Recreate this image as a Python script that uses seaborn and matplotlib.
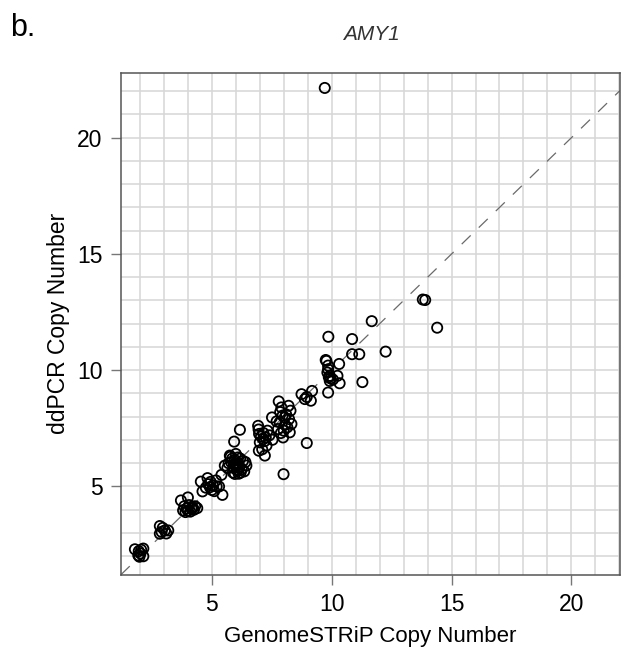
import matplotlib
matplotlib.use("Agg")
import matplotlib.pyplot as plt
from matplotlib.ticker import MultipleLocator
import seaborn as sns
import pandas as pd

# GenomeSTRiP vs ddPCR copy-number estimates for AMY1
genomestrip_cn = [
    # ~2 copies
    1.79, 1.95, 2.05, 2.14, 1.93, 2.14, 2.02, 1.98,
    # ~3 copies
    2.83, 2.83, 3.04, 3.18, 2.95, 3.10, 2.90,
    # ~4 copies
    3.71, 4.00, 3.80, 3.85, 3.95, 4.05, 4.15, 4.25, 4.39, 4.30, 4.10, 3.90, 4.20, 4.00,
    # ~5 copies
    4.54, 4.82, 5.17, 4.61, 5.44, 4.92, 5.05, 5.00, 4.85, 5.20, 5.10, 4.95, 5.30, 4.75, 5.40,
    # ~6 copies
    5.75, 5.54, 6.44, 5.96, 6.20, 6.30, 5.85, 6.00, 6.10, 5.90, 6.05, 6.15, 5.80, 6.25,
    5.95, 6.35, 6.00, 5.70, 6.10, 5.88, 6.02, 6.18, 5.92, 6.08, 5.65, 6.40, 5.78, 6.12,
    5.93, 6.17,
    # ~7 copies
    6.93, 6.97, 7.32, 7.53, 7.14, 7.28, 6.96, 7.21, 7.05, 7.15, 7.00, 7.25, 7.10, 6.95, 7.20, 7.40,
    # ~8 copies
    7.79, 7.90, 8.20, 8.28, 7.51, 8.04, 7.83, 8.32, 7.76, 8.25, 7.97, 8.10, 7.85, 8.15,
    7.70, 8.00, 7.95, 8.05, 7.88, 8.22, 7.99, 8.96,
    # ~9 copies
    8.74, 9.18, 8.88, 9.13, 8.96,
    # ~10 copies
    9.75, 9.78, 10.31, 9.85, 9.82, 9.92, 10.24, 9.92, 9.95, 9.88, 10.05, 9.85, 10.33, 9.85,
    # high copy number
    9.86, 10.85, 10.85, 11.15, 12.25, 11.28, 11.67, 13.80, 13.90, 14.40, 9.71,
]

ddpcr_cn = [
    2.30, 2.22, 2.28, 2.33, 2.04, 2.00, 2.12, 1.98,
    3.30, 2.97, 3.11, 3.11, 3.22, 2.98, 3.05,
    4.40, 4.53, 3.97, 4.15, 4.05, 4.20, 4.05, 4.00, 4.07, 4.15, 3.92, 3.90, 4.10, 3.95,
    5.21, 5.36, 5.26, 4.79, 4.64, 4.97, 5.05, 4.85, 5.10, 5.00, 4.80, 5.20, 5.00, 4.95, 5.50,
    6.33, 5.90, 5.90, 5.54, 5.60, 6.10, 6.20, 6.40, 6.00, 5.80, 5.70, 5.85, 6.05, 5.75,
    6.15, 5.65, 5.95, 6.00, 6.25, 5.60, 5.85, 6.20, 5.95, 5.72, 5.80, 6.05, 6.28, 5.55,
    6.93, 7.44,
    7.61, 7.26, 7.40, 7.01, 7.04, 6.76, 6.54, 6.33, 7.15, 7.30, 6.90, 7.10, 6.60, 7.45, 6.95, 7.20,
    8.66, 8.40, 8.47, 8.26, 7.97, 7.97, 7.76, 7.69, 7.47, 7.33, 7.11, 8.10, 8.20, 7.55,
    7.80, 7.40, 8.05, 7.65, 7.30, 7.90, 5.53, 6.87,
    8.97, 9.11, 8.76, 8.69, 8.85,
    10.44, 10.40, 10.27, 10.04, 9.90, 9.76, 9.76, 9.54, 9.65, 9.70, 9.60, 10.20, 9.44, 9.04,
    11.44, 11.34, 10.69, 10.69, 10.80, 9.49, 12.11, 13.04, 13.02, 11.83, 22.14,
]

axis_ticks = [5, 10, 15, 20]
x_limits = (1.2, 22.02)
y_limits = (1.2, 22.8)

df = pd.DataFrame({"GenomeSTRiP": genomestrip_cn, "ddPCR": ddpcr_cn})

sns.set_theme(style="white")
plt.rcParams["font.family"] = ["Liberation Sans", "DejaVu Sans"]
plt.rcParams["text.color"] = "black"
plt.rcParams["axes.labelcolor"] = "black"

fig = plt.figure(figsize=(6.39, 6.60), dpi=100)
ax = fig.add_axes([0.189, 0.129, 0.781, 0.761])

# grid on every integer copy number
ax.xaxis.set_minor_locator(MultipleLocator(1))
ax.yaxis.set_minor_locator(MultipleLocator(1))
ax.set_xticks(axis_ticks)
ax.set_yticks(axis_ticks)
ax.grid(which="both", color="#d6d6d6", linewidth=1.1, zorder=0)
ax.set_axisbelow(True)

# identity line
ax.axline((0, 0), slope=1, color="#6a6a6a", linewidth=0.9,
          linestyle=(0, (10, 9)), zorder=1)

sns.scatterplot(data=df, x="GenomeSTRiP", y="ddPCR", ax=ax,
                marker="o", s=54, facecolor="none", edgecolor="black",
                linewidth=1.3, zorder=3)

ax.set_xlim(*x_limits)
ax.set_ylim(*y_limits)

for side in ax.spines.values():
    side.set_visible(True)
    side.set_color("#555555")
    side.set_linewidth(1.1)

ax.tick_params(which="major", direction="out", length=7, width=1.0,
               color="#777777", labelsize=16.5, labelcolor="black", pad=6,
               bottom=True, left=True)
ax.tick_params(which="minor", length=0)

ax.set_xlabel("GenomeSTRiP Copy Number", fontsize=16, labelpad=7)
ax.set_ylabel("ddPCR Copy Number", fontsize=16.5, labelpad=5)

fig.text(0.582, 1 - 34 / 660, "AMY1", ha="center", va="center",
         fontsize=15, style="italic", color="#333333")
fig.text(10 / 639, 1 - 28 / 660, "b.", ha="left", va="center", fontsize=22)

fig.savefig("out.png", dpi=100)
